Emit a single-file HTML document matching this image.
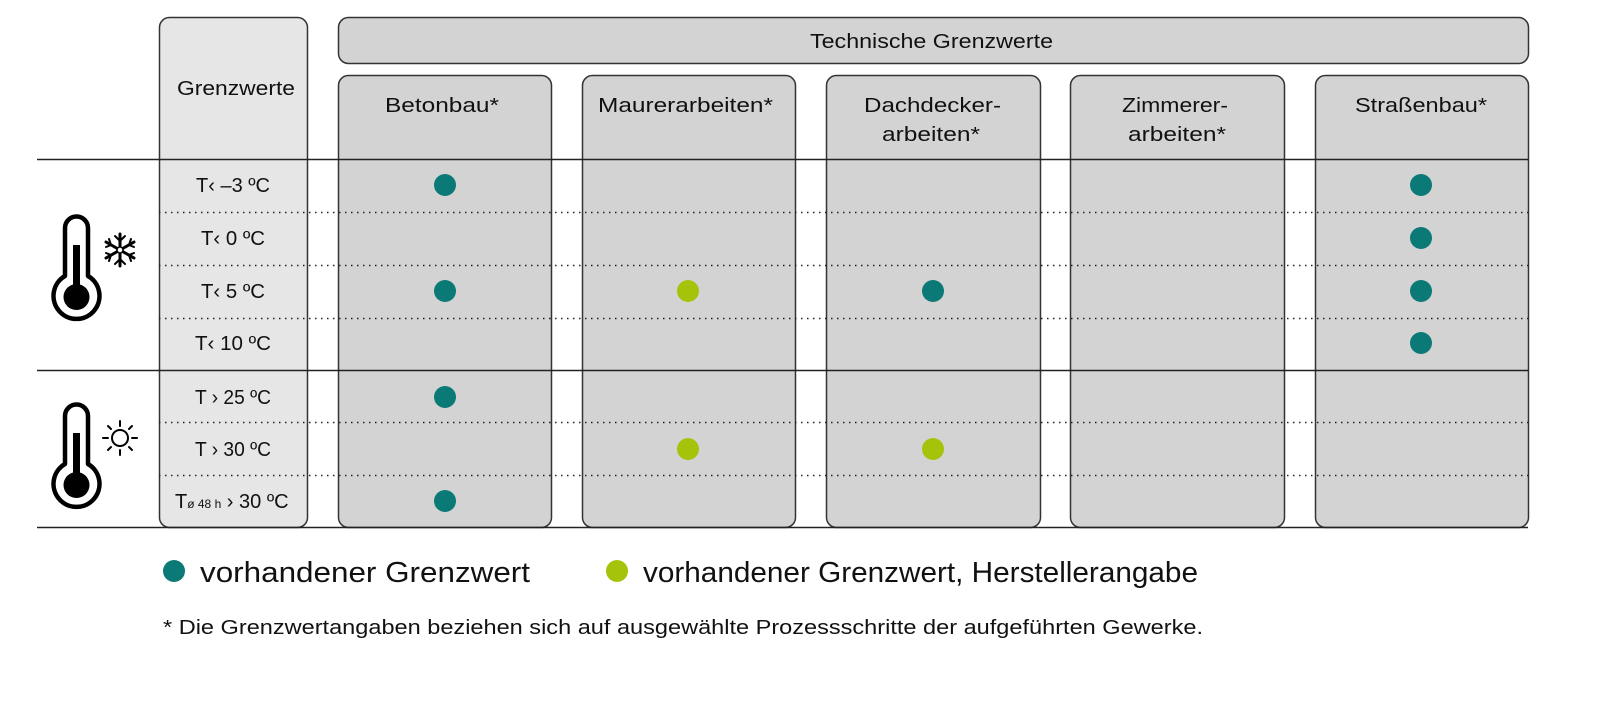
<!DOCTYPE html>
<html><head><meta charset="utf-8"><style>
html,body{margin:0;padding:0;background:#fff;}
svg{display:block;}
text{font-family:"Liberation Sans",sans-serif;fill:#111;}
</style></head><body>
<svg width="1600" height="710" viewBox="0 0 1600 710" xmlns="http://www.w3.org/2000/svg">
<rect x="159.5" y="17.5" width="148" height="510" rx="10" fill="#e6e6e6" stroke="#333" stroke-width="1.5"/>
<rect x="338.5" y="17.5" width="1190" height="46" rx="10" fill="#d3d3d3" stroke="#333" stroke-width="1.5"/>
<rect x="338.5" y="75.5" width="213" height="452" rx="10" fill="#d3d3d3" stroke="#333" stroke-width="1.5"/>
<rect x="582.5" y="75.5" width="213" height="452" rx="10" fill="#d3d3d3" stroke="#333" stroke-width="1.5"/>
<rect x="826.5" y="75.5" width="214" height="452" rx="10" fill="#d3d3d3" stroke="#333" stroke-width="1.5"/>
<rect x="1070.5" y="75.5" width="214" height="452" rx="10" fill="#d3d3d3" stroke="#333" stroke-width="1.5"/>
<rect x="1315.5" y="75.5" width="213" height="452" rx="10" fill="#d3d3d3" stroke="#333" stroke-width="1.5"/>
<g stroke="#222" stroke-width="1.6">
<line x1="37" y1="159.5" x2="1528" y2="159.5"/>
<line x1="37" y1="370.5" x2="1528" y2="370.5"/>
<line x1="37" y1="527.5" x2="1528" y2="527.5"/>
</g>
<g stroke="#222" stroke-width="1.5" stroke-dasharray="1.5 4.5">
<line x1="159" y1="212.5" x2="1528" y2="212.5"/>
<line x1="159" y1="265.5" x2="1528" y2="265.5"/>
<line x1="159" y1="318.5" x2="1528" y2="318.5"/>
<line x1="159" y1="422.5" x2="1528" y2="422.5"/>
<line x1="159" y1="475.5" x2="1528" y2="475.5"/>
</g>
<g font-size="20">
<text x="810" y="48" textLength="243" lengthAdjust="spacingAndGlyphs">Technische Grenzwerte</text>
<text x="177" y="95" textLength="118" lengthAdjust="spacingAndGlyphs">Grenzwerte</text>
<text x="385" y="112" textLength="114" lengthAdjust="spacingAndGlyphs">Betonbau*</text>
<text x="598" y="112" textLength="175" lengthAdjust="spacingAndGlyphs">Maurerarbeiten*</text>
<text x="864" y="112" textLength="137" lengthAdjust="spacingAndGlyphs">Dachdecker-</text>
<text x="882" y="141" textLength="98" lengthAdjust="spacingAndGlyphs">arbeiten*</text>
<text x="1122" y="112" textLength="106" lengthAdjust="spacingAndGlyphs">Zimmerer-</text>
<text x="1128" y="141" textLength="98" lengthAdjust="spacingAndGlyphs">arbeiten*</text>
<text x="1355" y="112" textLength="132" lengthAdjust="spacingAndGlyphs">Straßenbau*</text>
</g>
<g font-size="20">
<text x="196" y="192" textLength="74" lengthAdjust="spacingAndGlyphs">T‹ –3 ºC</text>
<text x="201" y="245" textLength="64" lengthAdjust="spacingAndGlyphs">T‹ 0 ºC</text>
<text x="201" y="298" textLength="64" lengthAdjust="spacingAndGlyphs">T‹ 5 ºC</text>
<text x="195" y="350" textLength="76" lengthAdjust="spacingAndGlyphs">T‹ 10 ºC</text>
<text x="195" y="404" textLength="76" lengthAdjust="spacingAndGlyphs">T › 25 ºC</text>
<text x="195" y="456" textLength="76" lengthAdjust="spacingAndGlyphs">T › 30 ºC</text>
<text x="175" y="508">T<tspan font-size="12">ø 48 h</tspan> › 30 ºC</text>
</g>
<g fill="#0b7a77">
<circle cx="445" cy="185" r="11"/><circle cx="445" cy="291" r="11"/><circle cx="445" cy="397" r="11"/><circle cx="445" cy="501" r="11"/>
<circle cx="933" cy="291" r="11"/>
<circle cx="1421" cy="185" r="11"/><circle cx="1421" cy="238" r="11"/><circle cx="1421" cy="291" r="11"/><circle cx="1421" cy="343" r="11"/>
</g>
<g fill="#a6c30c">
<circle cx="688" cy="291" r="11"/><circle cx="688" cy="449" r="11"/><circle cx="933" cy="449" r="11"/>
</g>
<g id="t1">
<path d="M65,276 L65,228 A11.5,11.5 0 0 1 88,228 L88,276 A23,23 0 1 1 65,276 Z" fill="none" stroke="#000" stroke-width="4.5" stroke-linejoin="round"/>
<rect x="73" y="245" width="7" height="45" fill="#000"/>
<circle cx="76.5" cy="297" r="13" fill="#000"/>
</g>
<use href="#t1" transform="translate(0,188)"/>
<g stroke="#000" stroke-width="3" stroke-linecap="round" transform="translate(120,250)">
<line x1="0" y1="-16" x2="0" y2="16"/><line x1="-14" y1="-8" x2="14" y2="8"/><line x1="-14" y1="8" x2="14" y2="-8"/>
<g stroke-width="2" fill="none"><path d="M-5,-14 L0,-9 L5,-14"/><path d="M-5,14 L0,9 L5,14"/>
<path d="M-14,-3 L-9,-5 L-11,-11"/><path d="M14,-3 L9,-5 L11,-11"/>
<path d="M-14,3 L-9,5 L-11,11"/><path d="M14,3 L9,5 L11,11"/></g>
<circle r="3" fill="#fff" stroke-width="1.5"/>
</g>
<g stroke="#000" stroke-width="2" stroke-linecap="round" transform="translate(120,438)" fill="none">
<circle r="8"/>
<line x1="0" y1="-12" x2="0" y2="-17"/><line x1="0" y1="12" x2="0" y2="17"/>
<line x1="-12" y1="0" x2="-17" y2="0"/><line x1="12" y1="0" x2="17" y2="0"/>
<line x1="-9" y1="-9" x2="-12" y2="-12"/><line x1="9" y1="-9" x2="12" y2="-12"/>
<line x1="-9" y1="9" x2="-12" y2="12"/><line x1="9" y1="9" x2="12" y2="12"/>
</g>
<circle cx="174" cy="571" r="11" fill="#0b7a77"/>
<text x="200" y="582" font-size="29" textLength="330" lengthAdjust="spacingAndGlyphs">vorhandener Grenzwert</text>
<circle cx="617" cy="571" r="11" fill="#a6c30c"/>
<text x="643" y="582" font-size="29" textLength="555" lengthAdjust="spacingAndGlyphs">vorhandener Grenzwert, Herstellerangabe</text>
<text x="163" y="634" font-size="20" textLength="1040" lengthAdjust="spacingAndGlyphs">* Die Grenzwertangaben beziehen sich auf ausgewählte Prozessschritte der aufgeführten Gewerke.</text>
</svg>
</body></html>
